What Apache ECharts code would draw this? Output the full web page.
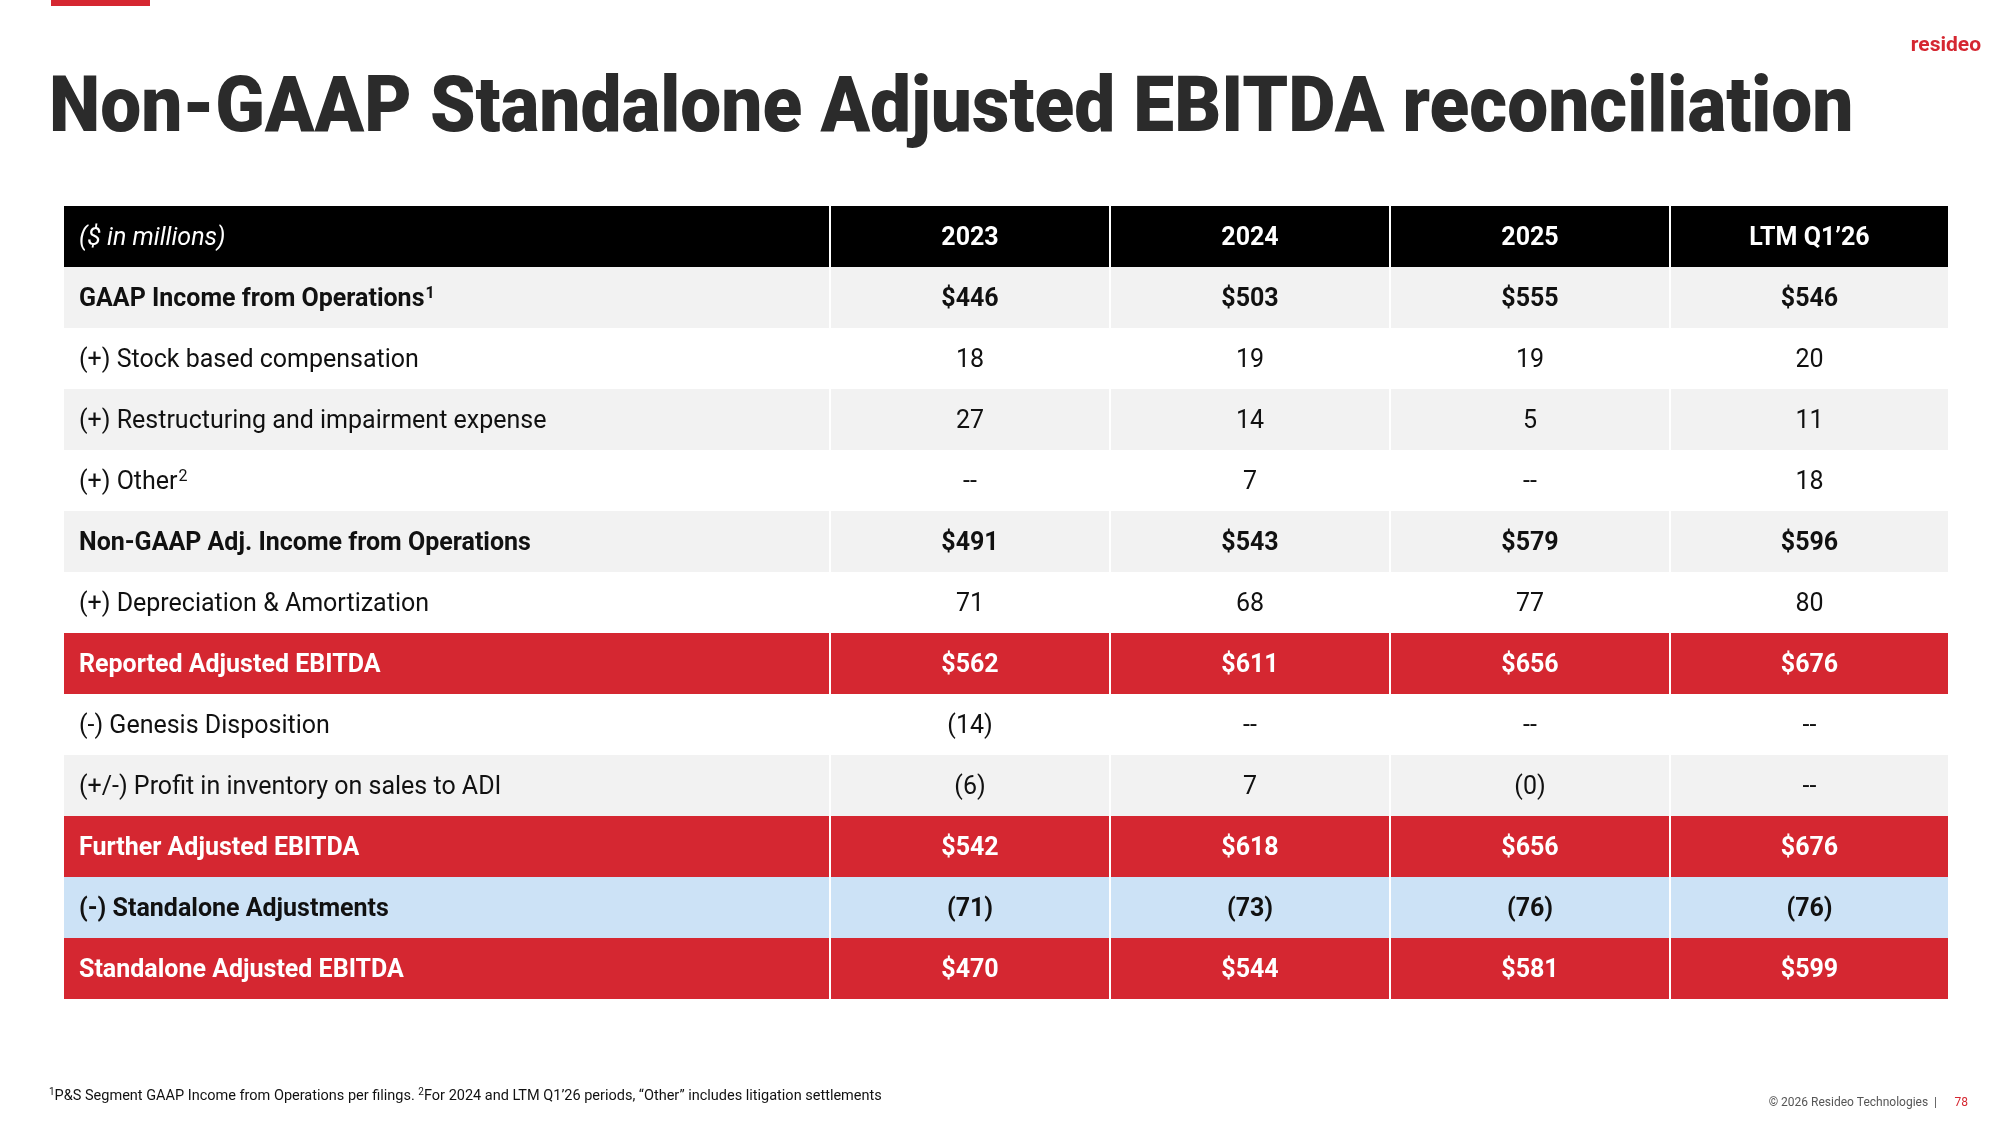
<!DOCTYPE html>
<html>
<head>
<meta charset="utf-8">
<script src="https://cdn.jsdelivr.net/npm/echarts@6/dist/echarts.min.js"></script>
<style>html,body{margin:0;padding:0;background:#fff}#main{width:2000px;height:1125px}</style>
</head>
<body>
<div id="main"></div>
<script>
var headers = ['($ in millions)', '2023', '2024', '2025', 'LTM Q1\u201926'];
var labels = [
    ['GAAP Income from Operations', '1'],
    ['(+) Stock based compensation', ''],
    ['(+) Restructuring and impairment expense', ''],
    ['(+) Other', '2'],
    ['Non-GAAP Adj. Income from Operations', ''],
    ['(+) Depreciation & Amortization', ''],
    ['Reported Adjusted EBITDA', ''],
    ['(-) Genesis Disposition', ''],
    ['(+/-) Profit in inventory on sales to ADI', ''],
    ['Further Adjusted EBITDA', ''],
    ['(-) Standalone Adjustments', ''],
    ['Standalone Adjusted EBITDA', '']
];
var values2023 = ['$446', '18', '27', '--', '$491', '71', '$562', '(14)', '(6)', '$542', '(71)', '$470'];
var values2024 = ['$503', '19', '14', '7', '$543', '68', '$611', '--', '7', '$618', '(73)', '$544'];
var values2025 = ['$555', '19', '5', '--', '$579', '77', '$656', '--', '(0)', '$656', '(76)', '$581'];
var valuesLtm = ['$546', '20', '11', '18', '$596', '80', '$676', '--', '--', '$676', '(76)', '$599'];
// g = gray, w = white, r = red, b = blue
var rowKinds = ['g', 'w', 'g', 'w', 'g', 'w', 'r', 'w', 'g', 'r', 'b', 'r'];
var boldRows = [0, 4, 6, 9, 10, 11];

var colX = [64, 831, 1111, 1391, 1671, 1950];
var top0 = 206, rowH = 61;
var fills = {g: '#f2f2f2', w: '#ffffff', r: '#d52731', b: '#cce2f6'};

var els = [];
els.push({type: 'rect', shape: {x: 51, y: 0, width: 99, height: 6}, style: {fill: '#d52731'}});
els.push({type: 'text', x: 1981, y: 46, style: {text: 'resideo', fill: '#d52731', font: 'bold 21px Roboto', align: 'right', verticalAlign: 'middle'}});
els.push({type: 'text', x: 49, y: 111, scaleX: 0.935, style: {text: 'Non-GAAP Standalone Adjusted EBITDA reconciliation', fill: '#2b2b2b', font: '900 78px Roboto', verticalAlign: 'middle'}});

function addRow(r, y, texts, fill, color, bold, sup) {
    for (var c = 0; c < 5; c++) {
        var x0 = colX[c], x1 = colX[c + 1] - 2;
        els.push({type: 'rect', shape: {x: x0, y: y, width: x1 - x0, height: rowH}, style: {fill: fill}});
        var font = (bold ? '700 ' : '400 ') + '25px Roboto';
        var cy = y + rowH / 2 + 2;
        if (c === 0) {
            var t = texts[0];
            var style = {text: t, fill: color, font: font, verticalAlign: 'middle'};
            if (r < 0) style.font = 'italic 400 25px Roboto';
            if (sup) {
                style = {
                    text: '{a|' + t + '}{s|' + sup + '}',
                    verticalAlign: 'middle',
                    rich: {
                        a: {font: font, fill: color},
                        s: {font: font.replace('25px', '16px'), fill: color, verticalAlign: 'top', padding: [0, 0, 12, 1]}
                    }
                };
            }
            els.push({type: 'text', x: x0 + 15, y: cy, style: style});
        } else {
            els.push({type: 'text', x: (x0 + x1) / 2, y: cy, style: {text: texts[c], fill: color, font: font, align: 'center', verticalAlign: 'middle'}});
        }
    }
}

addRow(-1, top0, headers, '#000000', '#ffffff', true, '');
for (var i = 0; i < labels.length; i++) {
    var kind = rowKinds[i];
    var bold = boldRows.indexOf(i) >= 0;
    addRow(i, top0 + rowH * (i + 1),
        [labels[i][0], values2023[i], values2024[i], values2025[i], valuesLtm[i]],
        fills[kind], kind === 'r' ? '#ffffff' : '#111111', bold, labels[i][1]);
}
els.push({type: 'text', x: 49, y: 1096, style: {text: '{s|1}{a|P&S Segment GAAP Income from Operations per filings. }{s|2}{a|For 2024 and LTM Q1\u201926 periods, \u201cOther\u201d includes litigation settlements}', verticalAlign: 'middle',
    rich: {a: {font: '400 14.5px Roboto', fill: '#111'}, s: {font: '400 10px Roboto', fill: '#111', padding: [0, 0, 8, 0]}}}});
els.push({type: 'text', x: 1937, y: 1103, style: {text: '\u00a9 2026 Resideo Technologies  |', fill: '#555', font: '400 12px Roboto', align: 'right', verticalAlign: 'middle'}});
els.push({type: 'text', x: 1968, y: 1103, style: {text: '78', fill: '#d52731', font: '400 12px Roboto', align: 'right', verticalAlign: 'middle'}});

var chart = echarts.init(document.getElementById('main'));
chart.setOption({animation: false, graphic: {elements: els}});
</script>
</body>
</html>
